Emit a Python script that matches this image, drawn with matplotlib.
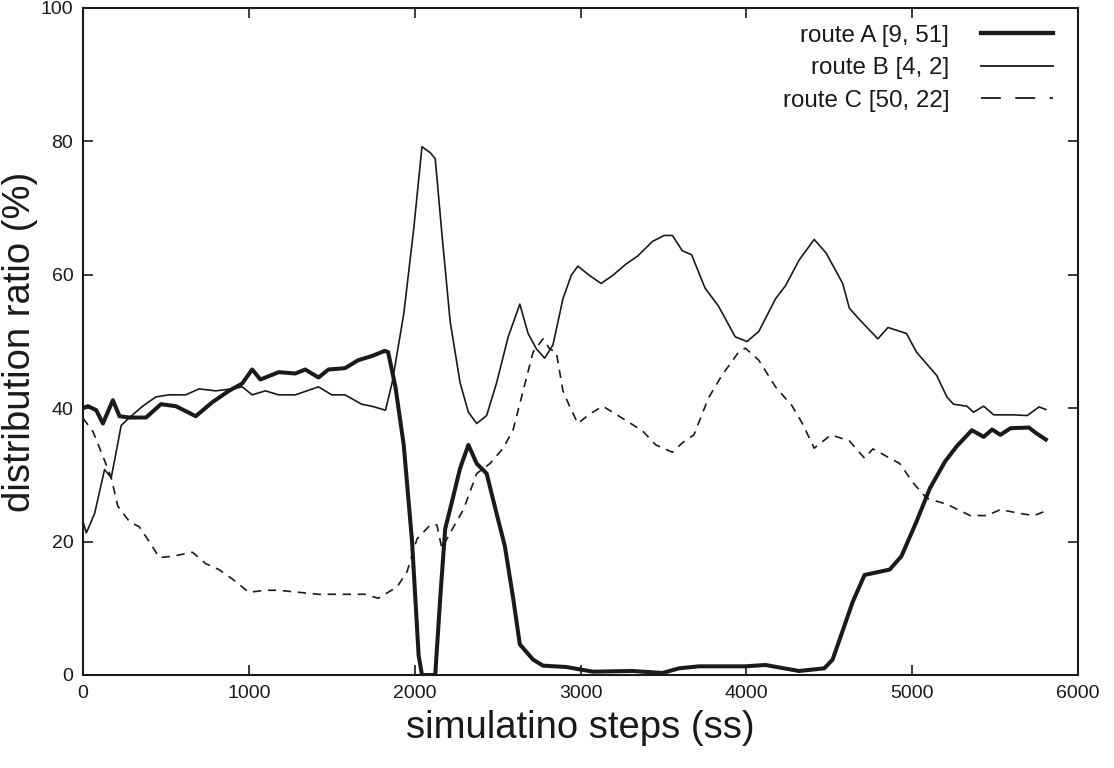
import matplotlib.pyplot as plt
from matplotlib.lines import Line2D

plt.rcParams['font.family'] = ['Liberation Sans', 'DejaVu Sans']

# route A [9, 51] (thick)
steps_a = [0, 30, 80, 120, 180, 220, 280, 380, 470, 560, 680, 780, 880, 960, 1020,
           1070, 1180, 1280, 1340, 1420, 1480, 1580, 1660, 1740, 1820, 1840, 1884,
           1934, 1984, 2024, 2044, 2124, 2154, 2184, 2224, 2274, 2324, 2374, 2434,
           2494, 2544, 2594, 2634, 2714, 2774, 2914, 3074, 3314, 3494, 3594, 3714,
           3994, 4115, 4318, 4470, 4520, 4642, 4713, 4864, 4935, 5026, 5107, 5198,
           5269, 5360, 5431, 5482, 5532, 5593, 5704, 5745, 5806]
ratio_a = [40.0, 40.3, 39.7, 37.7, 41.2, 38.8, 38.6, 38.6, 40.6, 40.3, 38.8, 40.9,
           42.6, 43.7, 45.8, 44.3, 45.4, 45.2, 45.8, 44.6, 45.8, 46.0, 47.2, 47.8,
           48.6, 48.4, 43.2, 34.5, 20.1, 2.9, 0.0, 0.0, 11.5, 21.9, 25.9, 31.0, 34.5,
           31.7, 30.2, 24.2, 19.3, 11.5, 4.6, 2.3, 1.4, 1.2, 0.5, 0.6, 0.3, 1.0, 1.3,
           1.3, 1.5, 0.6, 1.0, 2.3, 11.0, 15.0, 15.8, 17.8, 23.0, 28.0, 32.0, 34.3,
           36.7, 35.7, 36.8, 36.0, 37.0, 37.1, 36.3, 35.3]

# route B [4, 2] (thin solid)
steps_b = [0, 20, 70, 130, 170, 200, 230, 280, 360, 440, 520, 620, 700, 800, 900,
           960, 1020, 1100, 1180, 1280, 1420, 1500, 1580, 1680, 1740, 1824, 1864,
           1934, 1994, 2044, 2094, 2124, 2164, 2214, 2274, 2324, 2374, 2434, 2494,
           2564, 2634, 2684, 2734, 2784, 2834, 2894, 2944, 2984, 3054, 3124, 3194,
           3274, 3344, 3434, 3504, 3554, 3614, 3670, 3751, 3832, 3933, 4004, 4075,
           4176, 4237, 4318, 4409, 4480, 4581, 4621, 4682, 4793, 4854, 4966, 5026,
           5148, 5209, 5249, 5330, 5370, 5431, 5492, 5613, 5694, 5765, 5806]
ratio_b = [23.0, 21.3, 24.2, 30.8, 29.6, 33.4, 37.4, 38.6, 40.3, 41.7, 42.0, 42.0,
           42.9, 42.6, 42.9, 43.2, 42.0, 42.6, 42.0, 42.0, 43.2, 42.0, 42.0, 40.6,
           40.3, 39.7, 43.8, 54.1, 66.8, 79.2, 78.3, 77.4, 66.2, 53.0, 43.8, 39.4,
           37.7, 38.9, 43.8, 50.7, 55.6, 51.2, 48.9, 47.5, 49.5, 56.4, 59.9, 61.3,
           59.9, 58.7, 59.9, 61.6, 62.8, 65.0, 65.9, 65.9, 63.6, 63.0, 58.0, 55.3,
           50.7, 50.0, 51.5, 56.4, 58.4, 62.2, 65.3, 63.3, 58.7, 55.0, 53.3, 50.4,
           52.1, 51.2, 48.4, 44.9, 41.7, 40.6, 40.3, 39.4, 40.3, 39.0, 39.0, 38.9,
           40.2, 39.8]

# route C [50, 22] (dashed)
steps_c = [0, 60, 120, 170, 210, 280, 340, 410, 460, 540, 660, 740, 820, 900, 1000,
           1100, 1180, 1300, 1420, 1580, 1700, 1780, 1860, 1894, 1954, 2014, 2094,
           2134, 2164, 2214, 2294, 2374, 2454, 2534, 2594, 2654, 2714, 2774, 2814,
           2854, 2894, 2934, 2984, 3054, 3134, 3194, 3284, 3374, 3454, 3554, 3614,
           3684, 3771, 3852, 3953, 3994, 4075, 4176, 4277, 4338, 4409, 4510, 4621,
           4713, 4763, 4925, 5006, 5087, 5209, 5350, 5451, 5532, 5654, 5735, 5806]
ratio_c = [38.5, 36.5, 32.8, 29.6, 25.3, 23.0, 22.2, 19.6, 17.6, 17.8, 18.4, 16.7,
           15.8, 14.4, 12.4, 12.7, 12.7, 12.4, 12.1, 12.1, 12.1, 11.5, 12.7, 13.2,
           15.5, 20.4, 22.5, 22.5, 19.0, 21.3, 24.8, 30.2, 31.7, 34.0, 36.8, 42.6,
           48.4, 50.4, 48.9, 48.4, 42.6, 40.3, 37.7, 39.1, 40.3, 39.4, 38.0, 36.6,
           34.5, 33.4, 34.8, 36.0, 41.5, 44.9, 48.4, 49.0, 47.2, 43.2, 40.3, 37.7,
           34.0, 36.0, 35.1, 32.5, 33.9, 31.7, 28.8, 26.5, 25.6, 23.9, 23.9, 24.8,
           24.2, 23.9, 24.6]

labels = ['route A [9, 51]', 'route B [4, 2]', 'route C [50, 22]']
ink = '#1a1a1a'

fig = plt.figure(figsize=(11.14, 7.68), dpi=100)
ax = fig.add_axes([0.0745, 0.1211, 0.8932, 0.8685])

ax.plot(steps_a, ratio_a, color=ink, lw=2.9)
ax.plot(steps_b, ratio_b, color=ink, lw=1.2)
ax.plot(steps_c, ratio_c, color=ink, lw=1.2, dashes=(5, 4))

ax.set_xlim(0, 6000)
ax.set_ylim(0, 100)
ax.set_xticks(range(0, 6001, 1000))
ax.set_yticks(range(0, 101, 20))
ax.tick_params(direction='in', length=7, width=1.2, top=True, right=True,
               labelsize=14, pad=7, colors=ink)
for s in ax.spines.values():
    s.set_linewidth(1.5)
    s.set_color(ink)

ax.set_xlabel('simulatino steps (ss)', fontsize=27.5, labelpad=6, color=ink)
ax.set_ylabel('distribution ratio (%)', fontsize=27.5, color=ink)
ax.yaxis.set_label_coords(-0.045, 0.5)

# legend handles (gnuplot key draws the dashes longer than along the curve)
handles = [Line2D([], [], color=ink, lw=3.1),
           Line2D([], [], color=ink, lw=1.3),
           Line2D([], [], color=ink, lw=1.3, dashes=(11, 8))]
leg = ax.legend(handles, labels, loc='upper right', bbox_to_anchor=(0.975, 0.975),
                frameon=False, markerfirst=False, fontsize=17.4,
                handlelength=3.0, handletextpad=1.3, labelspacing=0.44,
                borderaxespad=0, borderpad=0)
for t in leg.get_texts():
    t.set_color(ink)

fig.savefig('out.png', dpi=100)
